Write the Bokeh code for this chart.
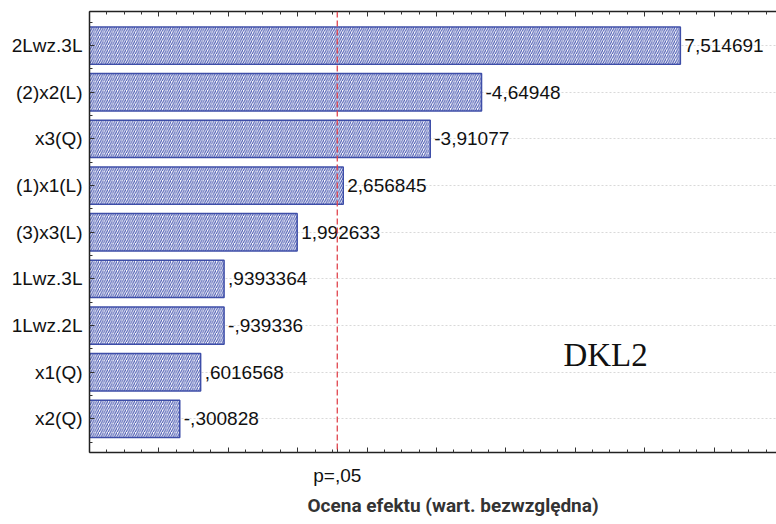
import numpy as np
from bokeh.plotting import figure
from bokeh.models import (ColumnDataSource, FixedTicker, LinearAxis, Span,
                          CustomJSTickFormatter, CustomLabelingPolicy, Label,
                          Range1d, Title)
from bokeh.core.properties import value
from bokeh.embed import file_html
from bokeh.resources import INLINE

# Pareto chart of standardized effects (DKL2)
factors = ["2Lwz.3L", "(2)x2(L)", "x3(Q)", "(1)x1(L)", "(3)x3(L)",
           "1Lwz.3L", "1Lwz.2L", "x1(Q)", "x2(Q)"]
effects = [7.514691, -4.64948, -3.91077, 2.656845, 1.992633,
           0.9393364, -0.939336, 0.6016568, -0.300828]
p_crit = 2.5706          # t critical value for p = .05
p_label = "p=,05"
x_axis_title = "Ocena efektu (wart. bezwzględna)"
panel_label = "DKL2"

X_MIN, X_MAX = -1.0, 8.9
Y_MIN, Y_MAX = 0.28, 9.73


def stat_fmt(v):
    """Format like Statistica (Polish locale): no leading zero, comma decimal."""
    s = f"{v:.7g}"
    s = s.replace("-0.", "-.")
    if s.startswith("0."):
        s = s[1:]
    return s.replace(".", ",")


n = len(factors)
ypos = list(range(n, 0, -1))  # first factor at the top
src = ColumnDataSource(dict(
    y=ypos,
    right=[abs(v) for v in effects],
    left=[X_MIN] * n,
    label=[stat_fmt(v) for v in effects],
    name=factors,
))

p = figure(width=776, height=524, output_backend="svg", toolbar_location=None,
           x_range=Range1d(X_MIN, X_MAX), y_range=Range1d(Y_MIN, Y_MAX),
           x_axis_location=None, y_axis_location=None,
           min_border_left=89, min_border_right=0, min_border_top=11,
           min_border_bottom=72)
p.outline_line_color = None
p.background_fill_color = "white"
p.border_fill_color = "white"

FONT = "Liberation Sans"
x_major = list(np.arange(-1, 9, 1.0))
x_minor = list(np.arange(-1, 9.0, 0.25))

# label only the first tick (the critical value); other ticks stay unlabeled
only_first = CustomLabelingPolicy(code="""
    const result = new Set()
    for (const i of indices) {
        if (i == 0) result.add(i)
    }
    return result
""")
no_labels = CustomLabelingPolicy(code="return new Set()")

# bottom axis: ticks, plus the significance label under the dashed line
bottom = LinearAxis(ticker=FixedTicker(ticks=[p_crit] + x_major, minor_ticks=x_minor))
bottom.formatter = CustomJSTickFormatter(
    args=dict(pc=p_crit, lab=p_label),
    code="return Math.abs(tick - pc) < 1e-6 ? lab : '';")
bottom.major_label_policy = only_first
bottom.major_label_text_font = FONT
bottom.major_label_text_font_size = "19px"
bottom.major_label_text_color = "#111111"
bottom.major_label_standoff = 12
p.add_layout(bottom, "below")

# x-axis title, set slightly right of the frame centre
x_title = Title(text=x_axis_title, align="left", offset=218, standoff=6,
                text_font="Roboto", text_font_style="bold",
                text_font_size="19px", text_color="#333333")
p.add_layout(x_title, "below")

top = LinearAxis(ticker=FixedTicker(ticks=x_major, minor_ticks=x_minor))
top.major_label_policy = no_labels
top.major_label_standoff = 0
p.add_layout(top, "above")

left = LinearAxis(ticker=FixedTicker(ticks=ypos,
                                     minor_ticks=list(np.arange(0.5, 10.0, 0.5))))
left.major_label_overrides = {yy: nm for yy, nm in zip(ypos, factors)}
left.major_label_text_font = FONT
left.major_label_text_font_size = "19px"
left.major_label_text_color = "#111111"
left.major_label_standoff = 7
p.add_layout(left, "left")

for ax in (bottom, top, left):
    ax.axis_line_color = "#222222"
    ax.axis_line_width = 1.5
    ax.major_tick_in = 5
    ax.major_tick_out = 0
    ax.minor_tick_in = 3
    ax.minor_tick_out = 0
    ax.major_tick_line_color = "#333333"
    ax.minor_tick_line_color = "#333333"

p.xgrid.visible = False
p.ygrid.ticker = left.ticker
p.ygrid.grid_line_color = "#d9d9d9"
p.ygrid.grid_line_dash = "2 2"

p.hbar(y="y", left="left", right="right", height=0.8, source=src,
       fill_color="white", hatch_pattern="/", hatch_color="#4656b0",
       hatch_scale=4.5, hatch_weight=1.1,
       line_color="#3e4ea8", line_width=1.5)

p.text(x="right", y="y", text="label", source=src, x_offset=4,
       text_baseline="middle", text_align="left",
       text_font=value(FONT), text_font_size="19px", text_color="#111111")

p.add_layout(Span(location=p_crit, dimension="height", line_color="#e0454d",
                  line_dash="6 3", line_width=1.3))

p.add_layout(Label(x=5.83, y=2.37, text=panel_label,
                   text_font="Liberation Serif", text_font_size="33px",
                   text_color="#111111", text_baseline="alphabetic"))

open("out.html", "w").write(file_html(p, INLINE))
